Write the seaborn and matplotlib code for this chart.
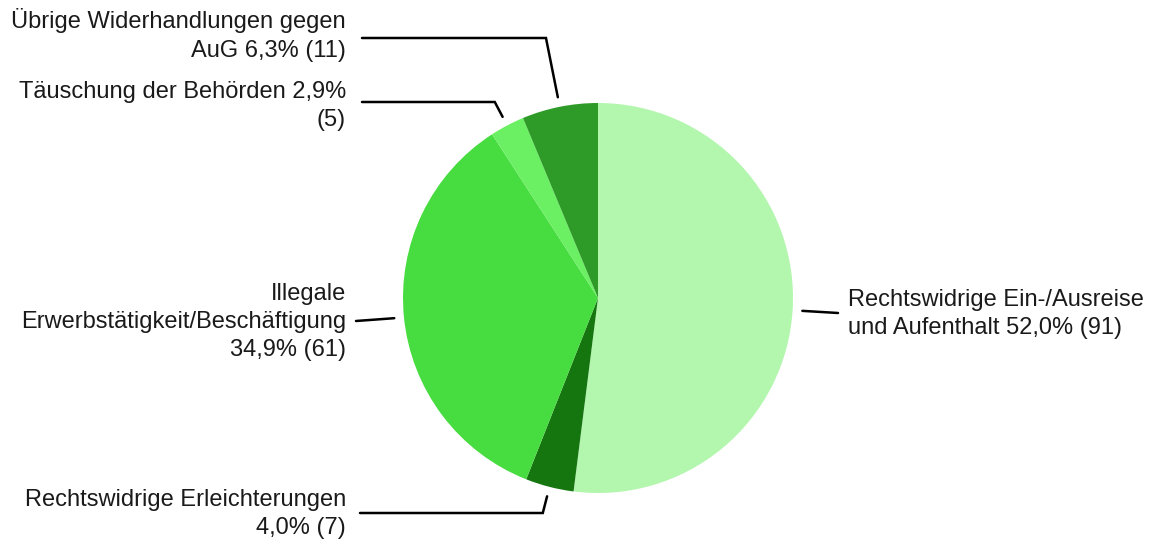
import numpy as np
import matplotlib
matplotlib.use("Agg")
import matplotlib.pyplot as plt
import seaborn as sns

# ---- data ----
categories = [
    "Rechtswidrige Ein-/Ausreise\nund Aufenthalt 52,0% (91)",
    "Rechtswidrige Erleichterungen\n4,0% (7)",
    "Illegale\nErwerbstätigkeit/Beschäftigung\n34,9% (61)",
    "Täuschung der Behörden 2,9%\n(5)",
    "Übrige Widerhandlungen gegen\nAuG 6,3% (11)",
]
counts = [91, 7, 61, 5, 11]
colors = ["#b3f6ae", "#15760f", "#47dc3f", "#6af062", "#2e9a28"]

sns.set_theme(style="white")
plt.rcParams['font.family'] = ['Liberation Sans', 'DejaVu Sans']

W, H, DPI = 1159, 543, 100
fig = plt.figure(figsize=(W / DPI, H / DPI), dpi=DPI)
ax = fig.add_axes([0, 0, 1, 1])

# pixel layout helpers (pie centre / radius in pixels)
CX, CY, R = 598, 298, 195
def ux(px):
    return (px - CX) / R
def uy(py):
    return (CY - py) / R

wedges, _ = ax.pie(counts, colors=colors, startangle=90, counterclock=False,
                   radius=1.0, center=(0, 0),
                   wedgeprops=dict(linewidth=0, edgecolor="none"))
ax.set_xlim(ux(0), ux(W))
ax.set_ylim(uy(H), uy(0))
ax.set_aspect("equal")
ax.axis("off")

# label layout: (line level y px, line end x px, text x px, text centre y px, ha)
layout = [
    (313, 838, 848, 314, "left"),
    (513, 360, 346, 514, "right"),
    (321, 356, 346, 322, "right"),
    (102, 362, 346, 106, "right"),
    (38, 362, 346, 35, "right"),
]

for w, lab, (ly, lx, tx, ty, ha) in zip(wedges, categories, layout):
    th = np.deg2rad((w.theta1 + w.theta2) / 2)
    p0 = np.array([1.05 * np.cos(th), 1.05 * np.sin(th)])
    yl = uy(ly)
    xs, ys = [p0[0]], [p0[1]]
    if abs(yl - p0[1]) > 0.04:
        # follow radial direction up/down to the label level
        xe = yl / np.tan(th)
        xs.append(xe); ys.append(yl)
    xs.append(ux(lx)); ys.append(yl)
    ax.plot(xs, ys, color="black", lw=1.8, solid_joinstyle="miter")
    ax.text(ux(tx), uy(ty), lab, ha=ha, va="center", fontsize=17,
            color="#1a1a1a", linespacing=1.38, multialignment=ha)

fig.savefig("out.png", dpi=DPI, facecolor="white")
